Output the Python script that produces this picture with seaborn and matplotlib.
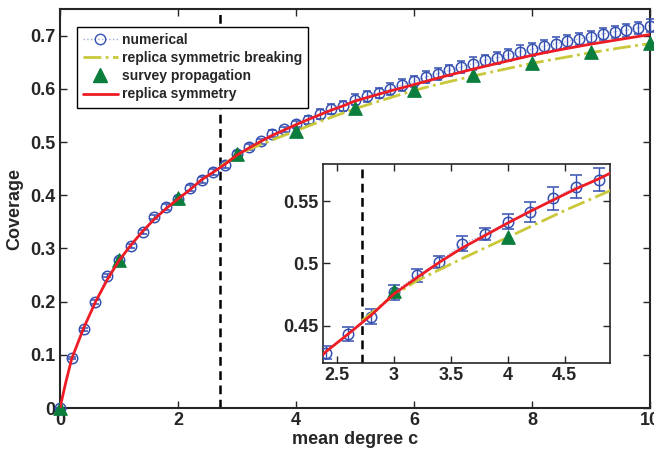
import numpy as np
import pandas as pd
import seaborn as sns
import matplotlib
matplotlib.use('Agg')
import matplotlib.pyplot as plt
from matplotlib.lines import Line2D

# numerical simulation (mean degree c, coverage, error)
num_c = [0.0, 0.2, 0.4, 0.6, 0.8, 1.0, 1.2, 1.4, 1.6, 1.8,
         2.0, 2.2, 2.4, 2.6, 2.8, 3.0, 3.2, 3.4, 3.6, 3.8,
         4.0, 4.2, 4.4, 4.6, 4.8, 5.0, 5.2, 5.4, 5.6, 5.8,
         6.0, 6.2, 6.4, 6.6, 6.8, 7.0, 7.2, 7.4, 7.6, 7.8,
         8.0, 8.2, 8.4, 8.6, 8.8, 9.0, 9.2, 9.4, 9.6, 9.8, 10.0]
num_val = [0.0, 0.0935, 0.148, 0.1994, 0.249, 0.2785, 0.3048, 0.3305, 0.3588, 0.3776,
           0.393, 0.4133, 0.4284, 0.4433, 0.4573, 0.477, 0.4905, 0.5013, 0.5157, 0.5236,
           0.5335, 0.5411, 0.5524, 0.5618, 0.5675, 0.5795, 0.5857, 0.592, 0.5996, 0.6077,
           0.614, 0.6221, 0.6284, 0.6346, 0.641, 0.6475, 0.6534, 0.658, 0.664, 0.670,
           0.674, 0.680, 0.685, 0.689, 0.6935, 0.6974, 0.703, 0.707, 0.710, 0.7145, 0.719]
num_err = [0.0, 0.002, 0.003, 0.003, 0.003, 0.004, 0.004, 0.004, 0.004, 0.005,
           0.005, 0.005, 0.005, 0.006, 0.006, 0.006, 0.005, 0.005, 0.006, 0.005,
           0.006, 0.008, 0.009, 0.009, 0.009, 0.010, 0.010, 0.010, 0.011, 0.011,
           0.011, 0.011, 0.011, 0.011, 0.011, 0.012, 0.011, 0.012, 0.011, 0.012,
           0.012, 0.012, 0.012, 0.012, 0.012, 0.012, 0.012, 0.012, 0.012, 0.012, 0.012]

# replica symmetry curve
rs_c = [0.0, 0.1, 0.2, 0.4, 0.6, 0.8, 1.0, 1.2, 1.4, 1.6, 1.8, 2.0, 2.2, 2.4, 2.6, 2.8,
        3.0, 3.2, 3.4, 3.6, 3.8, 4.0, 4.2, 4.4, 4.6, 4.8, 5.0, 5.5, 6.0, 6.5, 7.0,
        7.5, 8.0, 8.5, 9.0, 9.5, 10.0]
rs_val = [0.0, 0.049, 0.093, 0.150, 0.199, 0.241, 0.277, 0.306, 0.332, 0.355, 0.375,
          0.393, 0.410, 0.429, 0.4435, 0.4585, 0.4755, 0.4885, 0.501, 0.5125, 0.5225,
          0.5325, 0.542, 0.551, 0.560, 0.568, 0.577, 0.593, 0.608, 0.623, 0.637,
          0.650, 0.663, 0.674, 0.684, 0.693, 0.702]

# replica symmetry breaking curve (starts at c = e)
rsb_c = [2.718, 3.0, 3.2, 3.4, 3.6, 3.8, 4.0, 4.5, 5.0, 5.5, 6.0, 6.5, 7.0,
         7.5, 8.0, 8.5, 9.0, 9.5, 10.0]
rsb_val = [0.454, 0.4745, 0.486, 0.495, 0.504, 0.5125, 0.521, 0.5425, 0.5625, 0.580,
           0.597, 0.611, 0.624, 0.636, 0.648, 0.658, 0.668, 0.677, 0.685]

# survey propagation
sp_c = [0, 1, 2, 3, 4, 5, 6, 7, 8, 9, 10]
sp_val = [0.0, 0.278, 0.394, 0.478, 0.521, 0.564, 0.598, 0.6255, 0.649, 0.6685, 0.687]

c_star = 2.718

blue = '#3550B0'
red = '#EE1C24'
olive = '#C9C83A'
green = '#0B7D3C'

sns.set_style('ticks')
plt.rcParams['font.family'] = ['Liberation Sans', 'DejaVu Sans']
plt.rcParams['font.weight'] = 'bold'
plt.rcParams['axes.labelweight'] = 'bold'
plt.rcParams['xtick.direction'] = 'in'
plt.rcParams['ytick.direction'] = 'in'
plt.rcParams['xtick.top'] = True
plt.rcParams['ytick.right'] = True

num = pd.DataFrame({'c': num_c, 'cov': num_val, 'err': num_err})
rs = pd.DataFrame({'c': rs_c, 'cov': rs_val})
rsb = pd.DataFrame({'c': rsb_c, 'cov': rsb_val})
sp = pd.DataFrame({'c': sp_c, 'cov': sp_val})


def draw(ax, d, ms, cap, clip=True):
    ax.axvline(c_star, color='black', ls=(0, (3.5, 2.2)), lw=1.8, zorder=1)
    sns.lineplot(data=d, x='c', y='cov', ax=ax, color='#9aa6dd', lw=0.8, ls=':', zorder=2)
    ax.errorbar(d['c'], d['cov'], yerr=d['err'], fmt='o', mfc='none', mec=blue,
                ecolor=blue, mew=1.1, ms=ms, elinewidth=1, capsize=cap, capthick=1,
                zorder=3, clip_on=clip)
    sns.lineplot(data=rsb, x='c', y='cov', ax=ax, color=olive, lw=2, ls='-.', zorder=4)
    sns.scatterplot(data=sp, x='c', y='cov', ax=ax, marker='^', color=green, s=95,
                    edgecolor=green, zorder=5, clip_on=clip)
    sns.lineplot(data=rs, x='c', y='cov', ax=ax, color=red, lw=2, zorder=6)


fig = plt.figure(figsize=(6.54, 4.53), dpi=100)
ax = fig.add_axes([0.0917, 0.0993, 0.9021, 0.8808])
draw(ax, num, 7.5, 3, clip=False)
ax.set_xlim(0, 10)
ax.set_ylim(0, 0.75)
ax.set_xticks([0, 2, 4, 6, 8, 10])
ax.set_xticklabels(['0', '2', '4', '6', '8', '10'])
ax.set_yticks([0, 0.1, 0.2, 0.3, 0.4, 0.5, 0.6, 0.7])
ax.set_yticklabels(['0', '0.1', '0.2', '0.3', '0.4', '0.5', '0.6', '0.7'])
ax.set_xlabel('mean degree c', fontsize=13, labelpad=1)
ax.set_ylabel('Coverage', fontsize=13, labelpad=5)
ax.tick_params(labelsize=13, length=5, width=1, pad=3)
for s in ax.spines.values():
    s.set_linewidth(1.5)

handles = [
    Line2D([], [], color='#9aa6dd', ls=':', lw=1, marker='o', mfc='none', mec=blue, ms=7.5),
    Line2D([], [], color=olive, ls='-.', lw=2),
    Line2D([], [], ls='none', marker='^', color=green, ms=9.5),
    Line2D([], [], color=red, lw=2),
]
labels = ['numerical', 'replica symmetric breaking', 'survey propagation', 'replica symmetry']
leg = ax.legend(handles, labels, loc='upper left', bbox_to_anchor=(0.0283, 0.9556),
                borderaxespad=0, fontsize=10, handlelength=2.5, handletextpad=0.3,
                labelspacing=0.3, borderpad=0.45, fancybox=False, framealpha=1,
                edgecolor='black')
leg.get_frame().set_linewidth(1)
leg.set_zorder(10)
for t in leg.get_texts():
    t.set_fontweight('bold')

ins = fig.add_axes([0.4939, 0.1987, 0.4388, 0.4393])
sub = num[(num['c'] > 2.3) & (num['c'] < 5)]
draw(ins, sub, 7.5, 4)
ins.set_xlim(2.376, 4.9)
ins.set_ylim(0.42, 0.58)
ins.set_xticks([2.5, 3, 3.5, 4, 4.5])
ins.set_xticklabels(['2.5', '3', '3.5', '4', '4.5'])
ins.set_yticks([0.45, 0.5, 0.55])
ins.set_yticklabels(['0.45', '0.5', '0.55'])
ins.set_xlabel('')
ins.set_ylabel('')
ins.tick_params(labelsize=13, length=5, width=1, pad=3)
for s in ins.spines.values():
    s.set_linewidth(1.2)
ins.patch.set_facecolor('white')

fig.savefig('out.png', dpi=100)
